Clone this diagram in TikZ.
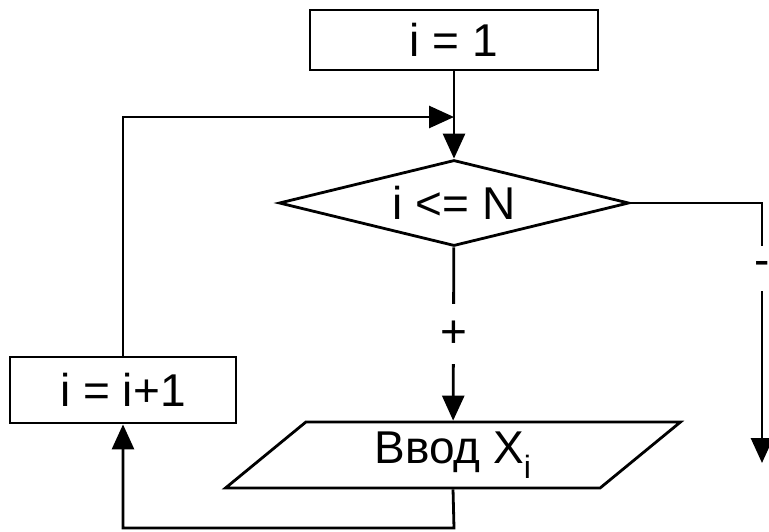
\documentclass[tikz,border=0pt]{standalone}
\usepackage{fontspec}
\setmainfont{Liberation Sans}
\usetikzlibrary{arrows.meta,scopes,shapes.geometric}
\tikzset{
  block/.style={draw, rectangle, inner sep=0pt},
  decision/.style={draw, diamond, shape aspect=4, inner sep=0pt},
  inout/.style={draw, trapezium, trapezium left angle=30, trapezium right angle=150,
    trapezium stretches body, inner sep=0pt},
  mark label/.style={fill=white, inner sep=0pt, minimum width=30pt}
}

\begin{document}
\begin{tikzpicture}[x=1pt, y=-1pt, line width=2.8pt,
    >={Triangle[length=25pt,width=22pt]},
    every node/.style={font=\fontsize{46}{52}\selectfont}]
    \useasboundingbox (0,0) rectangle (769,531);
    {[every node/.append style={block}]
    \node[minimum width=288pt, minimum height=60pt] (init) at (454,40) {i = 1};
    \node[minimum width=226pt, minimum height=66pt] (inc) at (123,390) {i = i+1};
    }
    \node[decision, minimum width=350pt, minimum height=86pt] (cond) at (454,203) {i <= N};
    \node[inout, minimum width=455pt, minimum height=66pt] (input) at (453,455) {Ввод X\textsubscript{i}};
    \coordinate (join) at (454,117);
    \coordinate (exit) at (762,463);
    \coordinate (back) at (454,528);
    {[->]
      \draw (init) -- (cond);
      \draw (inc.north) |- (join);
      \draw (cond) -- node[mark label, minimum height=60pt] {+} (input);
      \draw (cond.east) -| node[mark label, pos=0.625, minimum height=45pt] {-} (exit);
      \draw (input.south) -- (back) -| (inc.south);
    }
  \end{tikzpicture}
\end{document}
